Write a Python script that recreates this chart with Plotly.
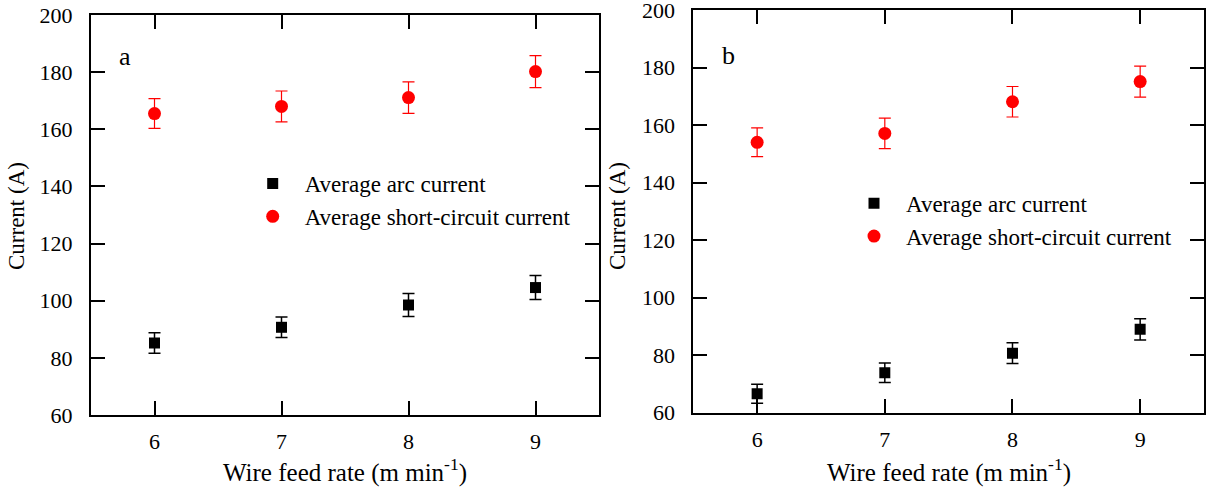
import plotly.graph_objects as go

# Data
feed_rate = [6, 7, 8, 9]
# Panel a
arc_a = [85.2, 90.7, 98.5, 104.6]
arc_a_err = [3.6, 3.6, 4.0, 4.2]
short_a = [165.5, 168.0, 171.1, 180.2]
short_a_err = [5.2, 5.4, 5.5, 5.6]
# Panel b
arc_b = [66.6, 73.9, 80.7, 89.0]
arc_b_err = [3.3, 3.4, 3.6, 3.7]
short_b = [154.0, 157.1, 168.1, 175.1]
short_b_err = [5.0, 5.3, 5.3, 5.4]

y_ticks = [60, 80, 100, 120, 140, 160, 180, 200]
x_ticks = [6, 7, 8, 9]

FONT = "Liberation Serif, Times New Roman, serif"
RED = "#ff0000"
BLACK = "#000000"

fig = go.Figure()

def add_panel(xa, ya, legend, arc, arc_err, sc, sc_err):
    fig.add_trace(go.Scatter(
        x=feed_rate, y=arc, mode="markers", name="Average arc current",
        marker=dict(symbol="square", size=11, color=BLACK),
        error_y=dict(type="data", array=arc_err, color=BLACK, thickness=1.5, width=6),
        xaxis=xa, yaxis=ya, legend=legend))
    fig.add_trace(go.Scatter(
        x=feed_rate, y=sc, mode="markers", name="Average short-circuit current",
        marker=dict(symbol="circle", size=13, color=RED),
        error_y=dict(type="data", array=sc_err, color=RED, thickness=1.2, width=6),
        xaxis=xa, yaxis=ya, legend=legend))

add_panel("x", "y", "legend", arc_a, arc_a_err, short_a, short_a_err)
add_panel("x2", "y2", "legend2", arc_b, arc_b_err, short_b, short_b_err)

W, H = 1207, 492

axis_common = dict(
    showline=True, linecolor=BLACK, linewidth=2, mirror="ticks",
    ticks="inside", ticklen=14, tickwidth=2, tickcolor=BLACK,
    showgrid=False, zeroline=False, automargin=False,
    ticklabeloverflow="allow",
    tickfont=dict(family=FONT, size=22, color=BLACK),
)

xa = dict(axis_common, range=[5.5, 9.5], tickvals=x_ticks, ticklabelstandoff=6)
ya = dict(axis_common, range=[60, 200], tickvals=y_ticks, ticklabelstandoff=12)

legend_common = dict(xanchor="left", yanchor="middle", bgcolor="rgba(0,0,0,0)",
                     font=dict(family=FONT, size=23, color=BLACK),
                     itemwidth=54, tracegroupgap=0)

def ann(text, x, y, size=22, angle=0):
    return dict(text=text, x=x / W, y=1 - y / H, xref="paper", yref="paper",
                xanchor="center", yanchor="middle", textangle=angle,
                showarrow=False, font=dict(family=FONT, size=size, color=BLACK))

fig.update_layout(
    width=W, height=H,
    margin=dict(l=0, r=0, t=0, b=0, autoexpand=False),
    paper_bgcolor="white", plot_bgcolor="white",
    showlegend=True,
    xaxis=dict(xa, domain=[91 / W, 599 / W], anchor="y"),
    yaxis=dict(ya, domain=[(H - 415) / H, (H - 15) / H], anchor="x"),
    xaxis2=dict(xa, domain=[693.3 / W, 1204 / W], anchor="y2"),
    yaxis2=dict(ya, domain=[(H - 412.7) / H, (H - 10) / H], anchor="x2"),
    legend=dict(legend_common, x=240.7 / W, y=1 - 200 / H),
    legend2=dict(legend_common, x=842 / W, y=1 - 219.7 / H),
    annotations=[
        ann("a", 125, 57, size=26),
        ann("b", 728, 55, size=26),
        ann("Current (A)", 17, 216, size=23, angle=-90),
        ann("Current (A)", 618, 216, size=23, angle=-90),
        ann("Wire feed rate (m min<sup>-1</sup>)", 345, 470, size=25),
        ann("Wire feed rate (m min<sup>-1</sup>)", 949, 470, size=25),
    ],
)

fig.write_html("out.html")
